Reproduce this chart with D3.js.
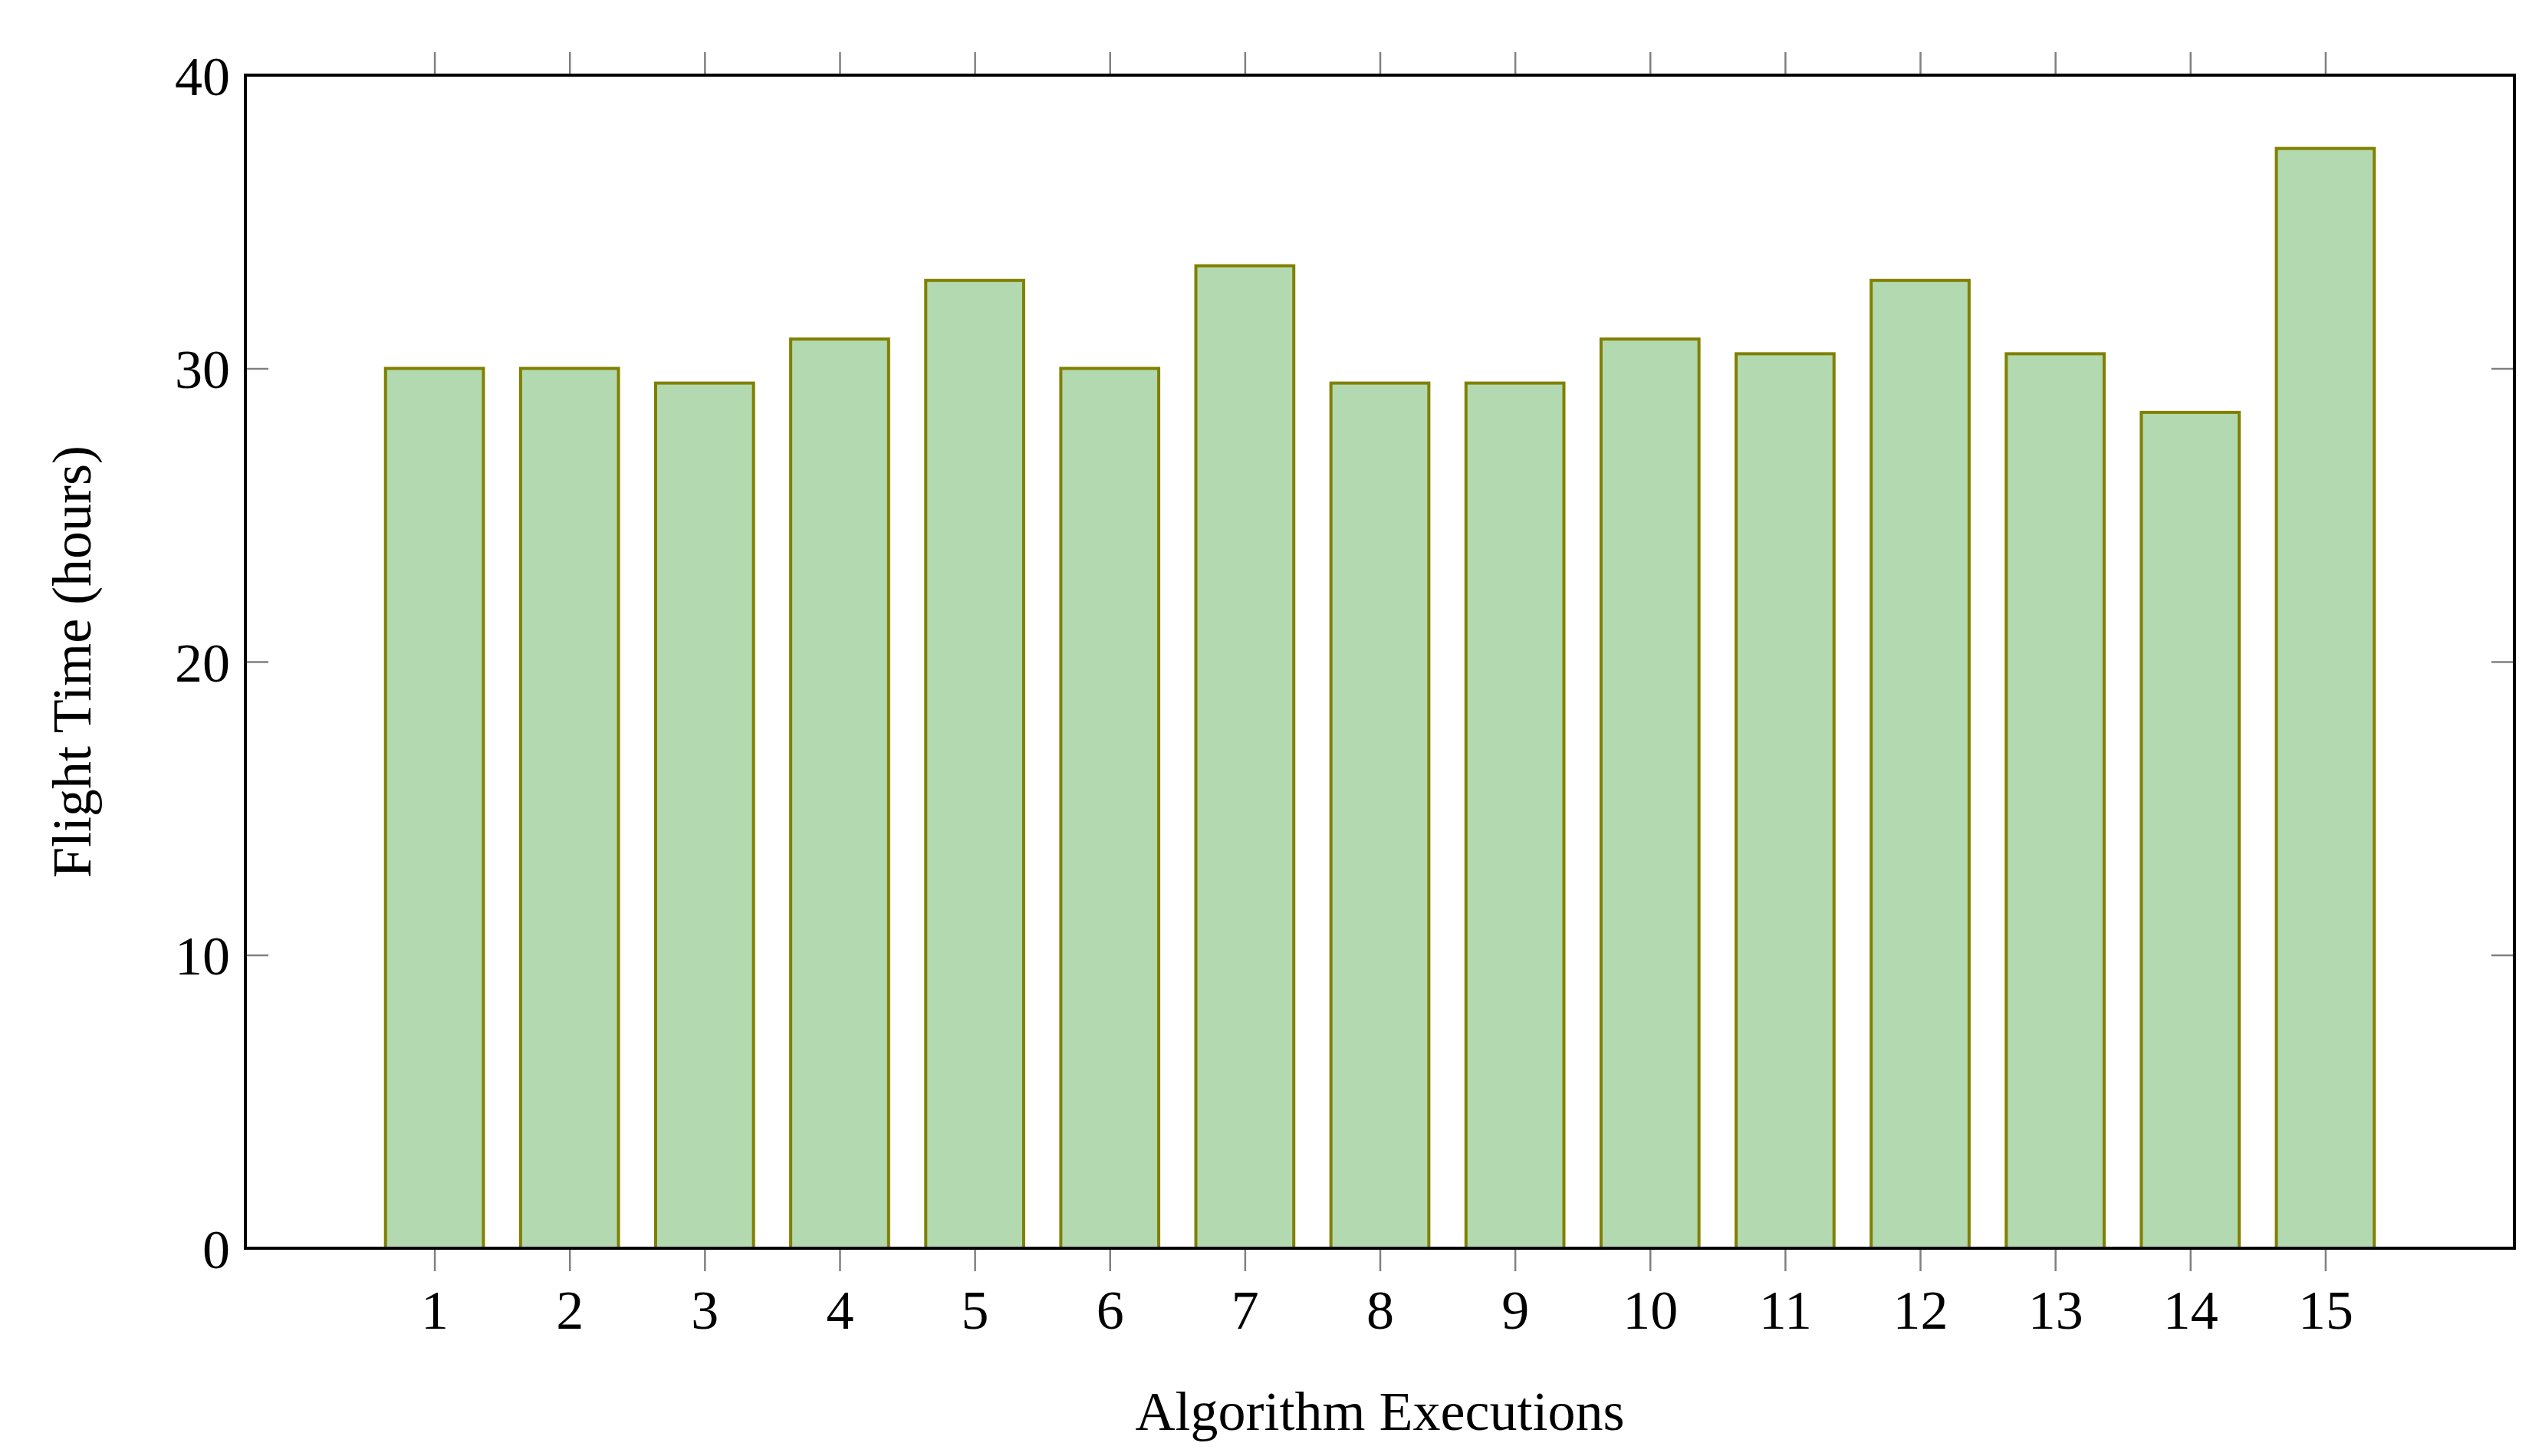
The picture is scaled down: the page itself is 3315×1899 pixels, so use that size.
<!DOCTYPE html>
<html><head><meta charset="utf-8">
<script src="https://cdn.jsdelivr.net/npm/d3@7"></script>
<style>body{margin:0;background:#fff}text{font-family:"Liberation Serif","DejaVu Serif",serif;fill:#000}</style>
</head><body><svg id="c" width="3315" height="1899"></svg>
<script>
const categories=[1,2,3,4,5,6,7,8,9,10,11,12,13,14,15];
const flightHours=[30,30,29.5,31,33,30,33.5,29.5,29.5,31,30.5,33,30.5,28.5,37.5];
const yTicks=[0,10,20,30,40];
const xLabel="Algorithm Executions", yLabel="Flight Time (hours)";

const L=320,R=3279,T=98,B=1628;
const svg=d3.select("#c");
const x=d3.scaleLinear().domain([-0.4,16.4]).range([L,R]);
const y=d3.scaleLinear().domain([0,40]).range([B,T]);
const bw=(x(1)-x(0))*0.725;

svg.append("g").selectAll("rect").data(flightHours).join("rect")
 .attr("x",(d,i)=>x(categories[i])-bw/2).attr("width",bw)
 .attr("y",d=>y(d)).attr("height",d=>B-y(d))
 .attr("fill","#b3d9b1").attr("stroke","#808000").attr("stroke-width",4);

const tk=30, fs=72;
const gx=svg.append("g").attr("transform",`translate(0,${B})`)
 .call(d3.axisBottom(x).tickValues(categories).tickSize(tk).tickFormat(d3.format("d")));
const gxt=svg.append("g").attr("transform",`translate(0,${T})`)
 .call(d3.axisTop(x).tickValues(categories).tickSize(tk).tickFormat(""));
const gy=svg.append("g").attr("transform",`translate(${L},0)`)
 .call(d3.axisRight(y).tickValues(yTicks).tickSize(tk).tickFormat(""));
const gyl=svg.append("g").attr("transform",`translate(${L},0)`)
 .call(d3.axisLeft(y).tickValues(yTicks).tickSize(0).tickPadding(20).tickFormat(d3.format("d")));
const gyr=svg.append("g").attr("transform",`translate(${R},0)`)
 .call(d3.axisLeft(y).tickValues(yTicks).tickSize(tk).tickFormat(""));
[gx,gxt,gy,gyl,gyr].forEach(g=>{g.select(".domain").remove();g.selectAll("line").attr("stroke","#808080").attr("stroke-width",2.5);
 g.selectAll("text").attr("font-size",fs).style("font-family","Liberation Serif");});
gx.selectAll("text").attr("dy","0").attr("y",tk+75);
gyl.selectAll("text").attr("dy","0.35em");
// remove tick marks overlapping frame at y=0/40 for left/right
svg.append("rect").attr("x",L).attr("y",T).attr("width",R-L).attr("height",B-T)
 .attr("fill","none").attr("stroke","#000").attr("stroke-width",4);

svg.append("text").attr("x",(L+R)/2).attr("y",1865).attr("text-anchor","middle").attr("font-size",fs).text(xLabel);
svg.append("text").attr("transform",`translate(118,${(T+B)/2}) rotate(-90)`).attr("text-anchor","middle").attr("font-size",fs).text(yLabel);
</script></body></html>
